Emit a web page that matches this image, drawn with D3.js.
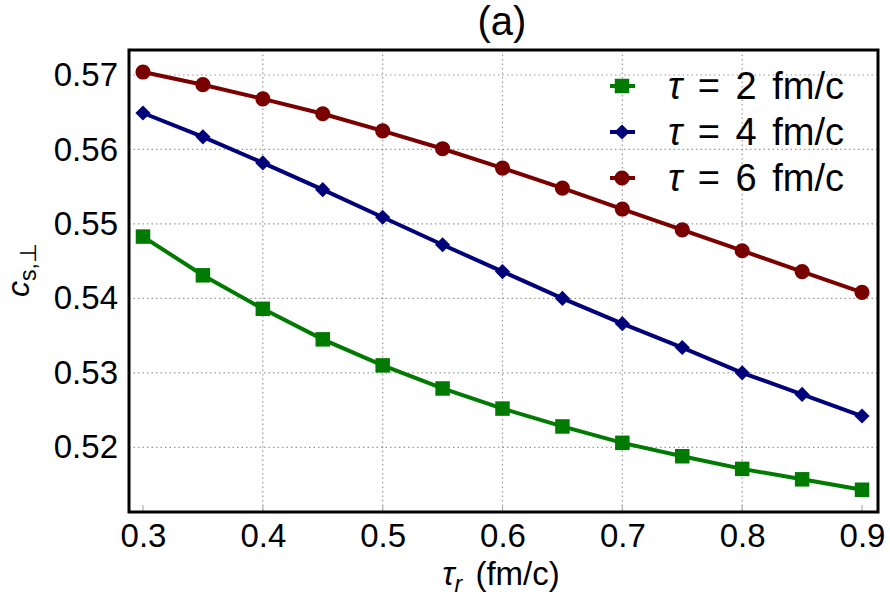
<!DOCTYPE html>
<html>
<head>
<meta charset="utf-8">
<script src="https://cdn.jsdelivr.net/npm/d3@7"></script>
<style>
  body { margin: 0; background: #fff; }
  svg { font-family: "Liberation Sans", Arial, sans-serif; }
</style>
</head>
<body>
<svg id="chart" width="890" height="611"></svg>
<script>
// relaxation time tau_r (fm/c)
var tauR = [0.3, 0.35, 0.4, 0.45, 0.5, 0.55, 0.6, 0.65, 0.7, 0.75, 0.8, 0.85, 0.9];

// c_s,perp for each tau
var tau2 = [0.5483, 0.5431, 0.5386, 0.5345, 0.5310, 0.5279, 0.5252, 0.5228, 0.5206, 0.5188, 0.5171, 0.5157, 0.5143];
var tau4 = [0.5649, 0.5617, 0.5582, 0.5546, 0.5509, 0.5472, 0.5436, 0.5400, 0.5366, 0.5334, 0.5300, 0.5271, 0.5242];
var tau6 = [0.5704, 0.5687, 0.5668, 0.5648, 0.5625, 0.5601, 0.5575, 0.5548, 0.5520, 0.5492, 0.5464, 0.5436, 0.5408];

var seriesNames = ["2", "4", "6"];
var xTicks = [0.3, 0.4, 0.5, 0.6, 0.7, 0.8, 0.9];
var yTicks = [0.52, 0.53, 0.54, 0.55, 0.56, 0.57];

var svg = d3.select("#chart");
// plot box in pixels (not "top": that name is taken by window.top)
var pLeft = 129, pRight = 878, pTop = 50, pBottom = 512;

var x = d3.scaleLinear().domain([0.28833, 0.91333]).range([pLeft, pRight]);
var y = d3.scaleLinear().domain([0.51131, 0.57336]).range([pBottom, pTop]);

// grid, dotted
var grid = svg.append("g").attr("stroke", "#999").attr("stroke-width", 1.2)
  .attr("stroke-dasharray", "1.5,3");
grid.selectAll(".gx").data(xTicks.slice(1, -1)).enter().append("line")
  .attr("x1", d => x(d)).attr("x2", d => x(d)).attr("y1", pTop).attr("y2", pBottom);
grid.selectAll(".gy").data(yTicks).enter().append("line")
  .attr("y1", d => y(d)).attr("y2", d => y(d)).attr("x1", pLeft).attr("x2", pRight);

// small inward ticks at the bottom
svg.append("g").selectAll("line").data(xTicks).enter().append("line")
  .attr("x1", d => x(d)).attr("x2", d => x(d)).attr("y1", pBottom).attr("y2", pBottom - 7)
  .attr("stroke", "#b0b0b0").attr("stroke-width", 1.2);

// axes (labels only)
var xAxis = svg.append("g").attr("transform", "translate(0," + pBottom + ")")
  .call(d3.axisBottom(x).tickValues(xTicks).tickSize(0).tickPadding(12).tickFormat(d3.format(".1f")));
var yAxis = svg.append("g").attr("transform", "translate(" + pLeft + ",0)")
  .call(d3.axisLeft(y).tickValues(yTicks).tickSize(0).tickPadding(11).tickFormat(d3.format(".2f")));
[xAxis, yAxis].forEach(function (a) {
  a.attr("font-size", null).attr("font-family", null);
  a.select(".domain").remove();
  a.selectAll("text").style("font-size", "33px").attr("fill", "#000");
});

var diamond = { draw: function (ctx, size) {
  // square turned 45 degrees, like matplotlib's "D"
  var r = Math.sqrt(size / 2);
  ctx.moveTo(0, -r); ctx.lineTo(r, 0); ctx.lineTo(0, r); ctx.lineTo(-r, 0); ctx.closePath();
} };

var series = [
  { name: seriesNames[0], values: tau2, color: "#007a00", shape: d3.symbolSquare, size: 210 },
  { name: seriesNames[1], values: tau4, color: "#00007a", shape: diamond, size: 115 },
  { name: seriesNames[2], values: tau6, color: "#7a0000", shape: d3.symbolCircle, size: 180 }
];

var line = d3.line().x((d, i) => x(tauR[i])).y(d => y(d));

series.forEach(function (s) {
  svg.append("path").datum(s.values).attr("d", line)
    .attr("fill", "none").attr("stroke", s.color).attr("stroke-width", 4);
  svg.append("g").selectAll("path").data(s.values).enter().append("path")
    .attr("d", d3.symbol().type(s.shape).size(s.size))
    .attr("transform", (d, i) => "translate(" + x(tauR[i]) + "," + y(d) + ")")
    .attr("fill", s.color);
});

// frame
svg.append("rect").attr("x", pLeft).attr("y", pTop)
  .attr("width", pRight - pLeft).attr("height", pBottom - pTop)
  .attr("fill", "none").attr("stroke", "#000").attr("stroke-width", 3);

// legend
var leg = svg.append("g");
series.forEach(function (s, i) {
  var cy = 86 + i * 46;
  leg.append("line").attr("x1", 610).attr("x2", 635).attr("y1", cy).attr("y2", cy)
    .attr("stroke", s.color).attr("stroke-width", 4);
  leg.append("path").attr("d", d3.symbol().type(s.shape).size(s.size))
    .attr("transform", "translate(622," + cy + ")").attr("fill", s.color);
  var t = leg.append("text").attr("x", 668).attr("y", cy + 13).style("font-size", "38px")
    .style("word-spacing", "5px");
  t.append("tspan").attr("font-style", "italic").text("\u03c4");
  t.append("tspan").text(" = " + s.name + " fm/c");
});

// title
svg.append("text").attr("x", 502).attr("y", 35).attr("text-anchor", "middle")
  .style("font-size", "40px").text("(a)");

// x label
var xl = svg.append("text").attr("x", 501).attr("y", 585).attr("text-anchor", "middle")
  .style("font-size", "33px").style("word-spacing", "4px");
xl.append("tspan").attr("font-style", "italic").text("\u03c4");
xl.append("tspan").attr("font-style", "italic").style("font-size", "23px").attr("dy", 7).text("r");
xl.append("tspan").attr("dy", -7).text(" (fm/c)");

// y label
var yl = svg.append("text").attr("transform", "translate(29,270) rotate(-90)")
  .attr("text-anchor", "middle").style("font-size", "32px");
yl.append("tspan").attr("font-style", "italic").text("c");
yl.append("tspan").style("font-size", "23px").attr("dy", 7).text("s,\u22a5");
</script>
</body>
</html>
